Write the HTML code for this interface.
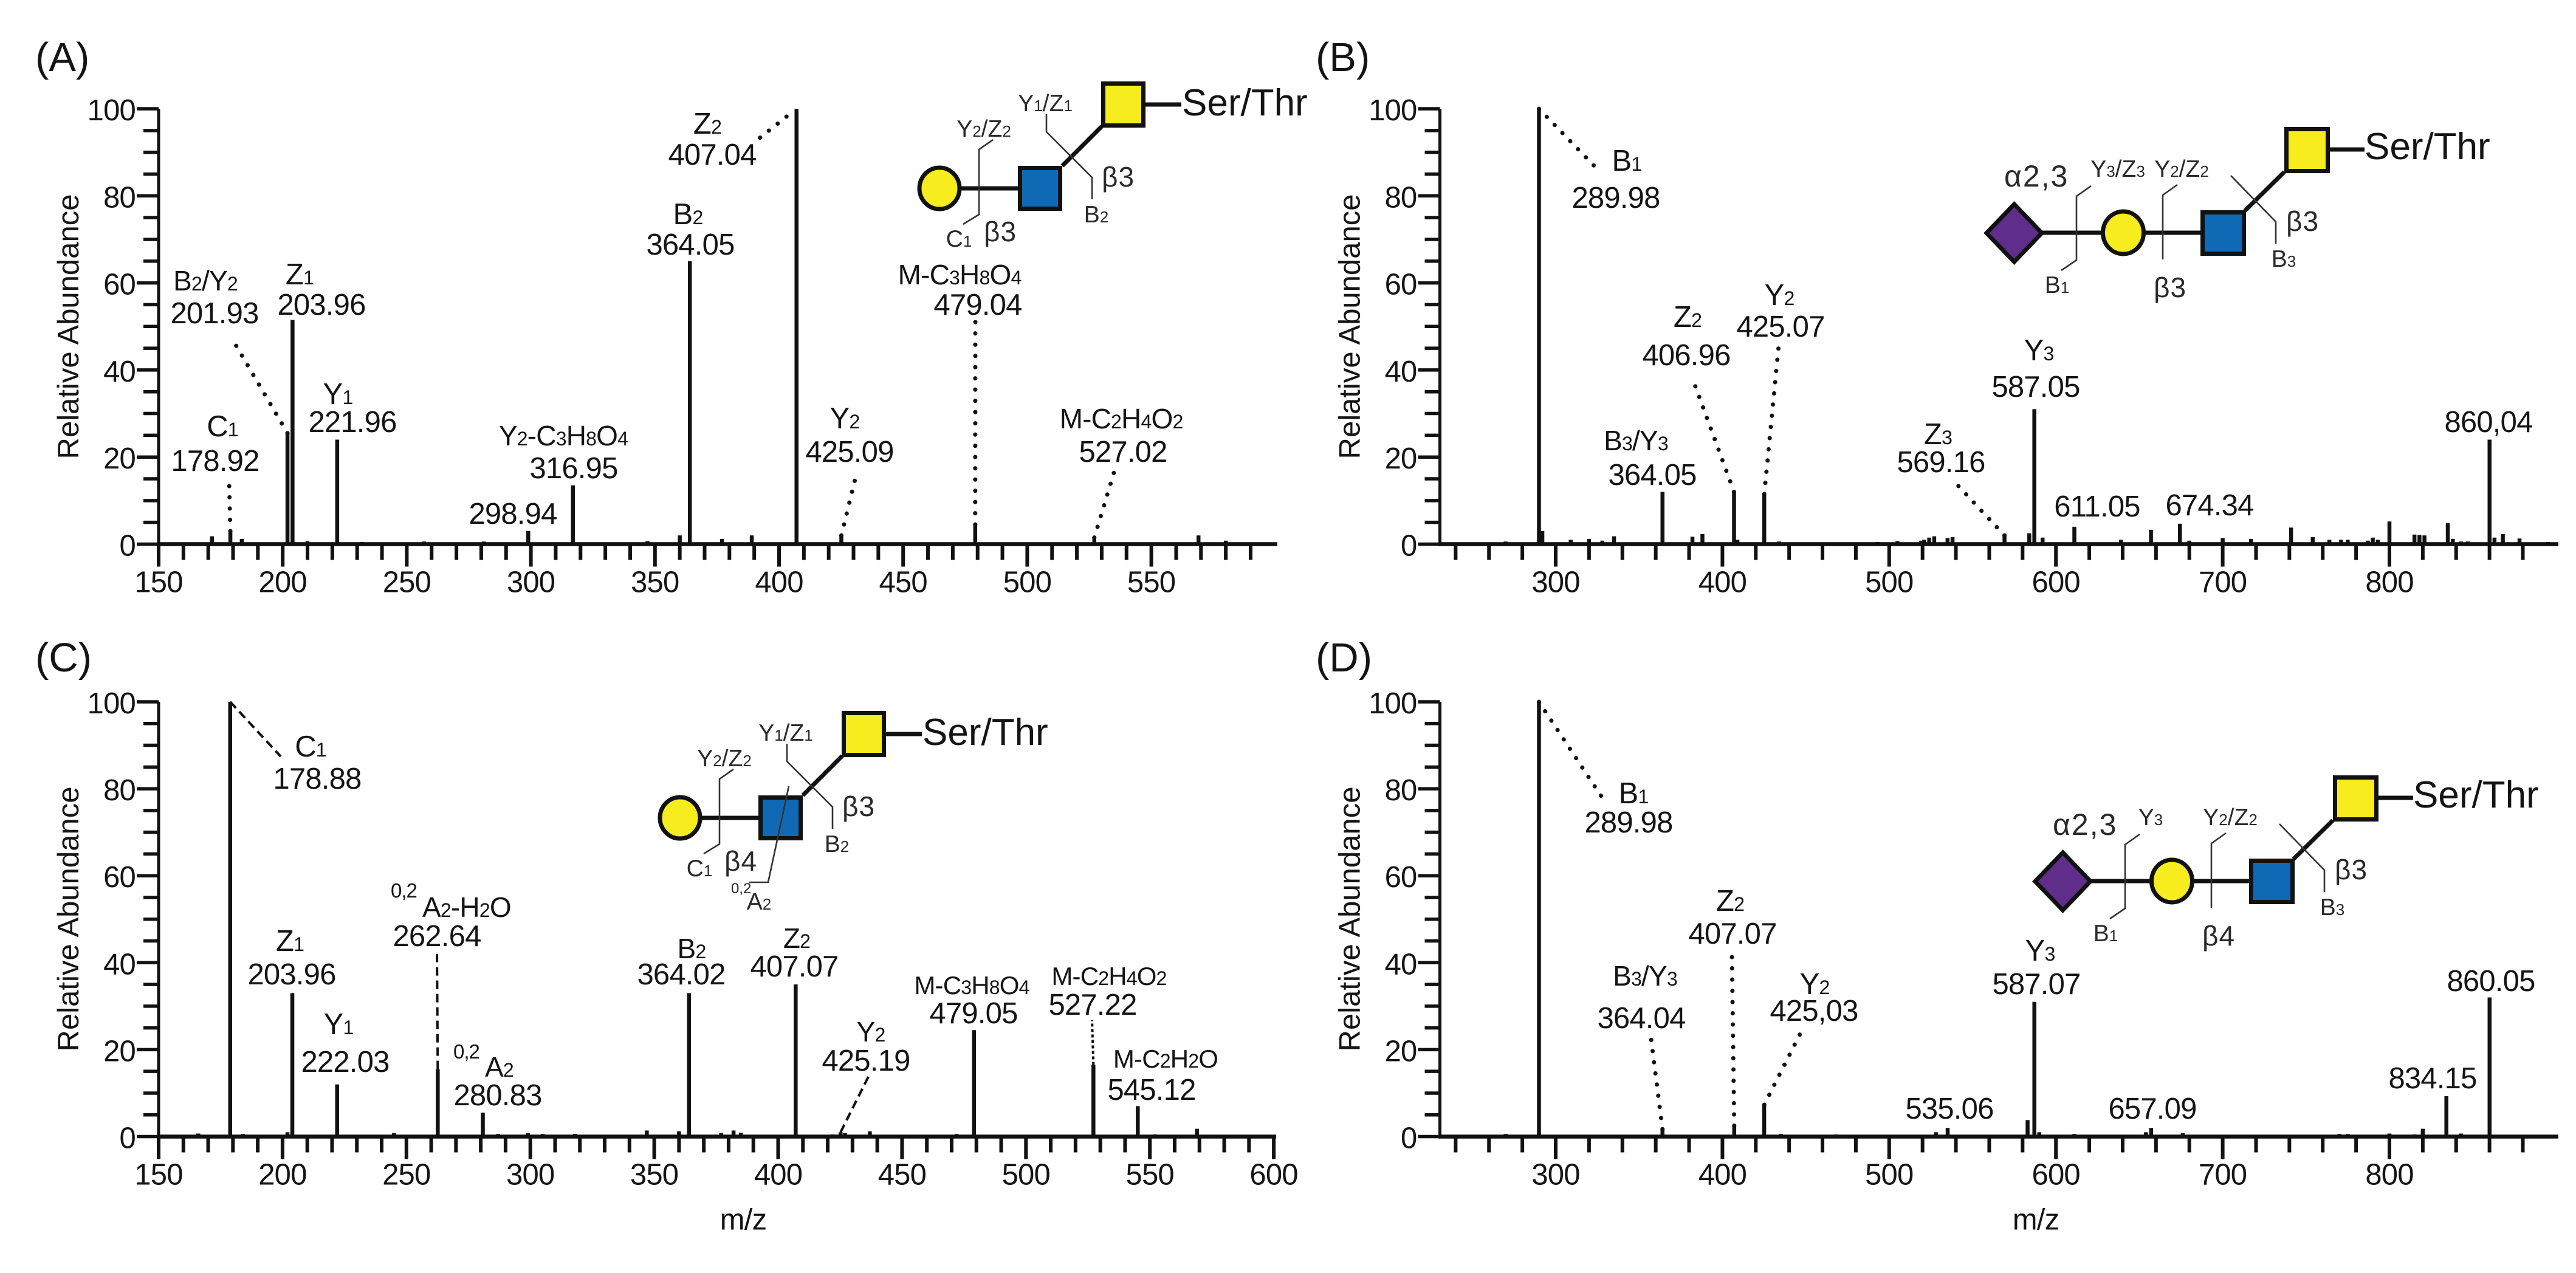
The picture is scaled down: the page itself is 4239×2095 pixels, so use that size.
<!DOCTYPE html>
<html lang="en">
<head>
<meta charset="utf-8">
<title>MS/MS spectra of glycans</title>
<style>
html,body{margin:0;padding:0;background:#fff;}
svg{display:block;}
text{font-family:"Liberation Sans",sans-serif;fill:#141414;}
.n{font-size:49px;text-anchor:middle;letter-spacing:-.8px;}
.f{font-size:46px;text-anchor:middle;letter-spacing:-.8px;}
.sub{font-size:32px;}
.sup{font-size:33px;letter-spacing:-1px;}
.g{font-size:39px;text-anchor:middle;fill:#2a2a2a;}
.g tspan{font-size:26px;}
.beta{font-size:46px;letter-spacing:1px;fill:#2a2a2a;}
.alpha{font-size:50px;letter-spacing:2px;fill:#2a2a2a;}
.st{font-size:62px;fill:#141414;}
.p{font-size:67px;}
.thin{fill:none;stroke:#333;stroke-width:2.6;}
.thick{fill:none;stroke:#111;stroke-width:7;}
.sh{stroke:#111;stroke-width:7;}
</style>
</head>
<body>
<svg id="fig" xmlns="http://www.w3.org/2000/svg" width="4239" height="2095" viewBox="0 0 4239 2095">
<rect width="4239" height="2095" fill="#fff"/>

<g id="layer-a"></g>
<g id="layer-b"></g>
<g id="layer-c"></g>
<g id="layer-d"></g>

<!-- Panel letters -->
<text class="p" x="58" y="117">(A)</text>
<text class="p" x="2165" y="117">(B)</text>
<text class="p" x="58" y="1105">(C)</text>
<text class="p" x="2165" y="1105">(D)</text>

<!-- Panel A annotations -->
<g>
<text class="n" x="366" y="718">C<tspan class="sub">1</tspan></text>
<text class="n" x="354" y="775">178.92</text>
<text class="f" x="338" y="478">B<tspan class="sub">2</tspan>/Y<tspan class="sub">2</tspan></text>
<text class="n" x="353" y="532">201.93</text>
<text class="n" x="493" y="468">Z<tspan class="sub">1</tspan></text>
<text class="n" x="529" y="518">203.96</text>
<text class="n" x="556" y="665">Y<tspan class="sub">1</tspan></text>
<text class="n" x="580" y="711">221.96</text>
<text class="f" x="927" y="733">Y<tspan class="sub">2</tspan>-C<tspan class="sub">3</tspan>H<tspan class="sub">8</tspan>O<tspan class="sub">4</tspan></text>
<text class="n" x="944" y="787">316.95</text>
<text class="n" x="844" y="862">298.94</text>
<text class="n" x="1132" y="369">B<tspan class="sub">2</tspan></text>
<text class="n" x="1136" y="419">364.05</text>
<text class="n" x="1164" y="220">Z<tspan class="sub">2</tspan></text>
<text class="n" x="1172" y="271">407.04</text>
<text class="f" x="1579" y="468">M-C<tspan class="sub">3</tspan>H<tspan class="sub">8</tspan>O<tspan class="sub">4</tspan></text>
<text class="n" x="1609" y="518">479.04</text>
<text class="n" x="1390" y="705">Y<tspan class="sub">2</tspan></text>
<text class="n" x="1398" y="760">425.09</text>
<text class="f" x="1845" y="705">M-C<tspan class="sub">2</tspan>H<tspan class="sub">4</tspan>O<tspan class="sub">2</tspan></text>
<text class="n" x="1848" y="760">527.02</text>
</g>

<!-- Panel B annotations -->
<g>
<text class="n" x="2677" y="281">B<tspan class="sub">1</tspan></text>
<text class="n" x="2659" y="342">289.98</text>
<text class="n" x="2928" y="502">Y<tspan class="sub">2</tspan></text>
<text class="n" x="2930" y="554">425.07</text>
<text class="n" x="2777" y="538">Z<tspan class="sub">2</tspan></text>
<text class="n" x="2775" y="601">406.96</text>
<text class="f" x="2692" y="741">B<tspan class="sub">3</tspan>/Y<tspan class="sub">3</tspan></text>
<text class="n" x="2719" y="798">364.05</text>
<text class="n" x="3189" y="731">Z<tspan class="sub">3</tspan></text>
<text class="n" x="3194" y="777">569.16</text>
<text class="n" x="3355" y="593">Y<tspan class="sub">3</tspan></text>
<text class="n" x="3350" y="653">587.05</text>
<text class="n" x="3451" y="850">611.05</text>
<text class="n" x="3636" y="848">674.34</text>
<text class="n" x="4095" y="711">860,04</text>
</g>

<!-- Panel C annotations -->
<g>
<text class="n" x="511" y="1245">C<tspan class="sub">1</tspan></text>
<text class="n" x="522" y="1298">178.88</text>
<text class="n" x="477" y="1565">Z<tspan class="sub">1</tspan></text>
<text class="n" x="480" y="1620">203.96</text>
<text class="n" x="557" y="1702">Y<tspan class="sub">1</tspan></text>
<text class="n" x="568" y="1764">222.03</text>
<text class="sup" x="643" y="1477">0,2</text>
<text class="f" x="695" y="1509" style="text-anchor:start">A<tspan class="sub">2</tspan>-H<tspan class="sub">2</tspan>O</text>
<text class="n" x="719" y="1557">262.64</text>
<text class="sup" x="746" y="1742">0,2</text>
<text class="f" x="798" y="1772" style="text-anchor:start">A<tspan class="sub">2</tspan></text>
<text class="n" x="819" y="1819">280.83</text>
<text class="f" x="1138" y="1577">B<tspan class="sub">2</tspan></text>
<text class="n" x="1121" y="1620">364.02</text>
<text class="f" x="1311" y="1560">Z<tspan class="sub">2</tspan></text>
<text class="n" x="1307" y="1607">407.07</text>
<text class="f" x="1599" y="1636" style="font-size:42px">M-C<tspan class="sub">3</tspan>H<tspan class="sub">8</tspan>O<tspan class="sub">4</tspan></text>
<text class="n" x="1602" y="1684">479.05</text>
<text class="f" x="1825" y="1621" style="font-size:42px">M-C<tspan class="sub">2</tspan>H<tspan class="sub">4</tspan>O<tspan class="sub">2</tspan></text>
<text class="n" x="1798" y="1670">527.22</text>
<text class="f" x="1433" y="1714">Y<tspan class="sub">2</tspan></text>
<text class="n" x="1425" y="1762">425.19</text>
<text class="f" x="1918" y="1757" style="font-size:42px">M-C<tspan class="sub">2</tspan>H<tspan class="sub">2</tspan>O</text>
<text class="n" x="1895" y="1810">545.12</text>
</g>

<!-- Panel D annotations -->
<g>
<text class="n" x="2688" y="1322">B<tspan class="sub">1</tspan></text>
<text class="n" x="2680" y="1370">289.98</text>
<text class="n" x="2847" y="1499">Z<tspan class="sub">2</tspan></text>
<text class="n" x="2851" y="1553">407.07</text>
<text class="f" x="2707" y="1622">B<tspan class="sub">3</tspan>/Y<tspan class="sub">3</tspan></text>
<text class="n" x="2701" y="1692">364.04</text>
<text class="n" x="2986" y="1636">Y<tspan class="sub">2</tspan></text>
<text class="n" x="2985" y="1680">425,03</text>
<text class="n" x="3357" y="1581">Y<tspan class="sub">3</tspan></text>
<text class="n" x="3351" y="1636">587.07</text>
<text class="n" x="4099" y="1631">860.05</text>
<text class="n" x="4003" y="1791">834.15</text>
<text class="n" x="3208" y="1841">535.06</text>
<text class="n" x="3542" y="1841">657.09</text>
</g>

<!-- Glycan A -->
<g>
<line class="thick" x1="1582" y1="310" x2="1675" y2="310"/>
<line class="thick" x1="1748" y1="273" x2="1813" y2="208"/>
<line class="thick" x1="1884" y1="172" x2="1944" y2="172"/>
<ellipse class="sh" cx="1546" cy="310" rx="33" ry="34" fill="#f7ec1d"/>
<rect class="sh" x="1678.5" y="276.5" width="66" height="67" fill="#1069b4"/>
<rect class="sh" x="1815.5" y="137.5" width="66" height="69" fill="#f7ec1d"/>
<polyline class="thin" points="1634,230 1611,246 1611,353 1585,369"/>
<polyline class="thin" points="1722,188 1722,217 1797,292 1797,328"/>
<text class="st" x="1945" y="190">Ser/Thr</text>
<text class="g" x="1720" y="183">Y<tspan>1</tspan>/Z<tspan>1</tspan></text>
<text class="g" x="1619" y="225">Y<tspan>2</tspan>/Z<tspan>2</tspan></text>
<text class="g" x="1804" y="366">B<tspan>2</tspan></text>
<text class="g" x="1578" y="406">C<tspan>1</tspan></text>
<text class="beta" x="1813" y="307">β3</text>
<text class="beta" x="1619" y="397">β3</text>
</g>

<!-- Glycan C -->
<g transform="translate(-427,1036)">
<line class="thick" x1="1582" y1="310" x2="1675" y2="310"/>
<line class="thick" x1="1748" y1="273" x2="1813" y2="208"/>
<line class="thick" x1="1884" y1="172" x2="1944" y2="172"/>
<ellipse class="sh" cx="1546" cy="310" rx="33" ry="34" fill="#f7ec1d"/>
<rect class="sh" x="1678.5" y="276.5" width="66" height="67" fill="#1069b4"/>
<rect class="sh" x="1815.5" y="137.5" width="66" height="69" fill="#f7ec1d"/>
<polyline class="thin" points="1634,230 1611,246 1611,353 1585,369"/>
<polyline class="thin" points="1722,188 1722,217 1797,292 1797,328"/>
<polyline class="thin" points="1725,258 1691,416 1660,416"/>
<text class="st" x="1945" y="190">Ser/Thr</text>
<text class="g" x="1720" y="183">Y<tspan>1</tspan>/Z<tspan>1</tspan></text>
<text class="g" x="1619" y="225">Y<tspan>2</tspan>/Z<tspan>2</tspan></text>
<text class="g" x="1804" y="366">B<tspan>2</tspan></text>
<text class="g" x="1578" y="406">C<tspan>1</tspan></text>
<text x="1630" y="434" style="font-size:24px;fill:#2a2a2a">0,2</text>
<text class="g" x="1676" y="461">A<tspan>2</tspan></text>
<text class="beta" x="1813" y="307">β3</text>
<text class="beta" x="1619" y="397">β4</text>
</g>

<!-- Glycan B -->
<g>
<line class="thick" x1="3360" y1="383" x2="3458" y2="383"/>
<line class="thick" x1="3530" y1="383" x2="3623" y2="383"/>
<line class="thick" x1="3694" y1="347" x2="3759" y2="283"/>
<line class="thick" x1="3832" y1="246" x2="3891" y2="246"/>
<polygon class="sh" points="3314.5,336 3360,383.5 3314.5,431 3269,383.5" fill="#5f2d8a"/>
<ellipse class="sh" cx="3494" cy="383" rx="33.5" ry="35" fill="#f7ec1d"/>
<rect class="sh" x="3624.5" y="349.5" width="68" height="68" fill="#1069b4"/>
<rect class="sh" x="3762.5" y="212.5" width="68" height="69" fill="#f7ec1d"/>
<polyline class="thin" points="3441,306 3417,323 3417,428 3392,445"/>
<polyline class="thin" points="3583,304 3559,321 3559,427"/>
<polyline class="thin" points="3671,289 3745,365 3745,401"/>
<text class="st" x="3891" y="262">Ser/Thr</text>
<text class="alpha" x="3298" y="307">α2,3</text>
<text class="g" x="3485" y="291">Y<tspan>3</tspan>/Z<tspan>3</tspan></text>
<text class="g" x="3590" y="291">Y<tspan>2</tspan>/Z<tspan>2</tspan></text>
<text class="g" x="3385" y="482">B<tspan>1</tspan></text>
<text class="g" x="3758" y="439">B<tspan>3</tspan></text>
<text class="beta" x="3762" y="380">β3</text>
<text class="beta" x="3544" y="489">β3</text>
</g>

<!-- Glycan D -->
<g transform="translate(80,1067)">
<line class="thick" x1="3360" y1="383" x2="3458" y2="383"/>
<line class="thick" x1="3530" y1="383" x2="3623" y2="383"/>
<line class="thick" x1="3694" y1="347" x2="3759" y2="283"/>
<line class="thick" x1="3832" y1="246" x2="3891" y2="246"/>
<polygon class="sh" points="3314.5,336 3360,383.5 3314.5,431 3269,383.5" fill="#5f2d8a"/>
<ellipse class="sh" cx="3494" cy="383" rx="33.5" ry="35" fill="#f7ec1d"/>
<rect class="sh" x="3624.5" y="349.5" width="68" height="68" fill="#1069b4"/>
<rect class="sh" x="3762.5" y="212.5" width="68" height="69" fill="#f7ec1d"/>
<polyline class="thin" points="3441,306 3417,323 3417,428 3392,445"/>
<polyline class="thin" points="3583,304 3559,321 3559,427"/>
<polyline class="thin" points="3671,289 3745,365 3745,401"/>
<text class="st" x="3891" y="262">Ser/Thr</text>
<text class="alpha" x="3298" y="307">α2,3</text>
<text class="g" x="3459" y="291">Y<tspan>3</tspan></text>
<text class="g" x="3590" y="291">Y<tspan>2</tspan>/Z<tspan>2</tspan></text>
<text class="g" x="3385" y="482">B<tspan>1</tspan></text>
<text class="g" x="3758" y="439">B<tspan>3</tspan></text>
<text class="beta" x="3762" y="380">β3</text>
<text class="beta" x="3544" y="489">β4</text>
</g>
</svg>

<script>
var yTickLabels = [0, 20, 40, 60, 80, 100];
var xTickLabelsA = [150, 200, 250, 300, 350, 400, 450, 500, 550];
var xTickLabelsB = [300, 400, 500, 600, 700, 800];
var xTickLabelsC = [150, 200, 250, 300, 350, 400, 450, 500, 550, 600];
var xTickLabelsD = [300, 400, 500, 600, 700, 800];

var mzA = [165, 171.5, 178.92, 183.5, 201.93, 203.96, 210, 221.96, 232, 239, 257, 275, 281, 298.94, 316.95, 330, 347, 360, 364.05, 377, 389, 407.04, 425.09, 455, 463, 479.04, 497, 517, 527.02, 535, 545, 569, 580, 590];
var intensityA = [0.4, 1.8, 3, 1.2, 25.5, 51.5, 0.7, 24, 0.5, 0.4, 0.6, 0.3, 0.6, 3, 13.5, 0.3, 0.7, 2, 65, 1.2, 2, 100, 2, 0.3, 0.3, 4.5, 0.4, 0.3, 1.5, 0.4, 0.3, 2, 0.8, 0.4];

var mzB = [270, 274, 289.98, 292, 309, 320, 328, 335, 364.05, 382, 388, 406.96, 409, 425.07, 434, 472, 493, 505, 519, 521, 524, 527, 535, 538, 569.16, 584, 587.05, 592, 611.05, 639, 657, 674.34, 680, 700, 717, 741, 754, 764, 771, 775, 787, 790, 793, 800, 815, 818, 821, 835, 838, 843, 847, 860.04, 863, 868, 878, 895];
var intensityB = [0.6, 0.3, 100, 3, 1, 1.2, 0.8, 1.8, 12, 1.7, 2.3, 12, 1, 11.5, 0.6, 0.4, 0.5, 0.7, 0.8, 1, 1.5, 1.8, 1.4, 1.6, 2, 2.5, 31, 1.5, 4, 1, 3.3, 4.7, 0.8, 1.4, 1.2, 3.8, 1.6, 1, 1, 1, 0.8, 1.5, 1, 5.2, 2.2, 2.1, 2, 4.8, 1.2, 0.6, 0.6, 24, 1.5, 2.3, 1.3, 0.5];

var mzC = [166, 172, 178.88, 184, 187, 202, 203.96, 222.03, 234, 238, 242, 245, 257, 262.64, 272, 275, 280.83, 287, 299, 305, 318, 330, 339, 347, 360, 364.02, 377, 382, 385, 407.07, 422, 425.19, 427, 437, 472, 479.05, 527.22, 545.12, 552, 560, 569, 580];
var intensityC = [0.7, 0.4, 100, 0.6, 0.3, 1, 33, 12, 0.3, 0.3, 0.4, 0.8, 0.4, 15.5, 0.3, 0.4, 5.5, 0.6, 0.8, 0.6, 0.6, 0.4, 0.3, 1.4, 1.2, 33, 0.8, 1.4, 0.9, 35, 0.5, 1, 0.8, 1.2, 0.6, 24.5, 16.5, 7, 0.5, 0.4, 1.8, 0.3];

var mzD = [270, 289.98, 335, 364.04, 380, 407.07, 425.03, 435, 463, 468, 473, 528, 535.06, 583, 587.07, 590, 611, 654, 657.09, 676, 770, 775, 800, 815, 820, 834.15, 843, 860.05];
var intensityD = [0.6, 100, 0.3, 1.7, 0.4, 2.5, 7.3, 0.6, 0.4, 0.5, 0.4, 1, 2, 3.8, 31, 1, 0.6, 1, 2, 0.8, 0.6, 0.6, 0.7, 0.5, 1.8, 9.3, 0.7, 32];

var NS = 'http://www.w3.org/2000/svg';

function makeScales(ax) {
  return {
    x: function (v) { return ax.xPx0 + (v - ax.xV0) * ax.xPerUnit; },
    y: function (v) { return ax.yPx0 - v * (ax.yPx0 - ax.yPx100) / 100; }
  };
}

function addLine(parent, x1, y1, x2, y2, width) {
  var el = document.createElementNS(NS, 'line');
  el.setAttribute('x1', x1);
  el.setAttribute('y1', y1);
  el.setAttribute('x2', x2);
  el.setAttribute('y2', y2);
  el.setAttribute('stroke', '#111');
  el.setAttribute('stroke-width', width);
  parent.appendChild(el);
  return el;
}

function addText(parent, x, y, str, cls, anchor) {
  var el = document.createElementNS(NS, 'text');
  el.setAttribute('x', x);
  el.setAttribute('y', y);
  el.setAttribute('class', cls);
  if (anchor) el.setAttribute('style', 'text-anchor:' + anchor);
  el.textContent = str;
  parent.appendChild(el);
  return el;
}

function drawPanel(layerId, ax, scales, mz, intensity, xLabels) {
  var g = document.getElementById(layerId);
  var i, el, v;
  var axisX = ax.axisPx;
  var base = scales.y(0);

  for (v = 0; v <= 100; v += 5) {
    var isMajorY = yTickLabels.indexOf(v) >= 0;
    el = addLine(g, axisX - (isMajorY ? 36 : 25), scales.y(v), axisX, scales.y(v), 5.5);
    
    
  }
  for (i = 0; i < yTickLabels.length; i++) {
    el = addText(g, axisX - 38, scales.y(yTickLabels[i]) + 19, String(yTickLabels[i]), 'n', 'end');
    
    
  }
  for (v = ax.tickStart; v <= ax.tickEnd; v += ax.tickStep) {
    var isMajorX = xLabels.indexOf(v) >= 0;
    el = addLine(g, scales.x(v), base, scales.x(v), base + (isMajorX ? 37 : 26), 6);
    
    
  }
  for (i = 0; i < xLabels.length; i++) {
    el = addText(g, scales.x(xLabels[i]), base + 79, String(xLabels[i]), 'n');
    
    
  }
  for (i = 0; i < mz.length; i++) {
    el = addLine(g, scales.x(mz[i]), base, scales.x(mz[i]), scales.y(intensity[i]), 6.5);
    
    
  }
  el = addLine(g, axisX, scales.y(100), axisX, base + 3, 5);
  
  
  el = addLine(g, axisX - 2, base, ax.axisEndPx, base, 6.5);
  
  

  var title = document.createElementNS(NS, 'text');
  title.setAttribute('transform', 'translate(' + (axisX - 132) + ',' + (base - 358) + ') rotate(-90)');
  title.setAttribute('class', 'n');
  title.setAttribute('style', 'letter-spacing:0');
  title.textContent = 'Relative Abundance';
  
  
  g.appendChild(title);

  if (ax.showXTitle) {
    el = addText(g, ax.xTitlePx, base + 153, 'm/z', 'n');
    
    
  }
}

function leader(layerId, scales, peakMz, peakIntensity, labelPxX, labelPxY, dash, width) {
  var g = document.getElementById(layerId);
  var el = addLine(g, scales.x(peakMz), scales.y(peakIntensity), labelPxX, labelPxY, width);
  el.setAttribute('stroke-dasharray', dash);
  if (dash === DOT) el.setAttribute('stroke-linecap', 'round');
  
  
}

var axA = { axisPx: 261, axisEndPx: 2102, xPx0: 261, xV0: 150, xPerUnit: 4.084, yPx0: 895.5, yPx100: 179, tickStart: 150, tickEnd: 590, tickStep: 10, showXTitle: false };
var axB = { axisPx: 2369.5, axisEndPx: 4210, xPx0: 2560, xV0: 300, xPerUnit: 2.744, yPx0: 895.5, yPx100: 179, tickStart: 240, tickEnd: 880, tickStep: 20, showXTitle: false };
var axC = { axisPx: 261, axisEndPx: 2100, xPx0: 261, xV0: 150, xPerUnit: 4.078, yPx0: 1870.5, yPx100: 1155, tickStart: 150, tickEnd: 600, tickStep: 10, showXTitle: true, xTitlePx: 1223 };
var axD = { axisPx: 2369.5, axisEndPx: 4210, xPx0: 2560, xV0: 300, xPerUnit: 2.744, yPx0: 1870.5, yPx100: 1155, tickStart: 240, tickEnd: 880, tickStep: 20, showXTitle: true, xTitlePx: 3350 };

var sA = makeScales(axA);
var sB = makeScales(axB);
var sC = makeScales(axC);
var sD = makeScales(axD);

drawPanel('layer-a', axA, sA, mzA, intensityA, xTickLabelsA);
drawPanel('layer-b', axB, sB, mzB, intensityB, xTickLabelsB);
drawPanel('layer-c', axC, sC, mzC, intensityC, xTickLabelsC);
drawPanel('layer-d', axD, sD, mzD, intensityD, xTickLabelsD);

var DOT = '0.1 18.4';
var DASH = '14 8';

leader('layer-a', sA, 403, 98.2, 1249, 228, DOT, 7);
leader('layer-a', sA, 201.93, 25.5, 381, 556, DOT, 7);
leader('layer-a', sA, 178.92, 3, 377, 792, DOT, 7);
leader('layer-a', sA, 425.09, 2, 1410, 777, DOT, 7);
leader('layer-a', sA, 479.04, 4.5, 1605, 528, DOT, 7);
leader('layer-a', sA, 527.02, 1.5, 1833, 778, DOT, 7);

leader('layer-b', sB, 289.98, 100, 2631, 281, DOT, 7);
leader('layer-b', sB, 406.96, 12, 2784, 620, DOT, 7);
leader('layer-b', sB, 425.07, 11.5, 2927, 569, DOT, 7);
leader('layer-b', sB, 569.16, 2, 3221, 798, DOT, 7);

leader('layer-c', sC, 178.88, 100, 462, 1245, DASH, 4);
leader('layer-c', sC, 262.64, 15.5, 719, 1565, DASH, 4);
leader('layer-c', sC, 425.19, 1, 1429, 1772, DASH, 4);
leader('layer-c', sC, 527.22, 16.5, 1797, 1679, '5 4', 4);

leader('layer-d', sD, 289.98, 100, 2640, 1318, DOT, 7);
leader('layer-d', sD, 407.07, 2.5, 2850, 1575, DOT, 7);
leader('layer-d', sD, 364.04, 1.7, 2717, 1710, DOT, 7);
leader('layer-d', sD, 425.03, 7.3, 2969, 1688, DOT, 7);
</script>
</body>
</html>
